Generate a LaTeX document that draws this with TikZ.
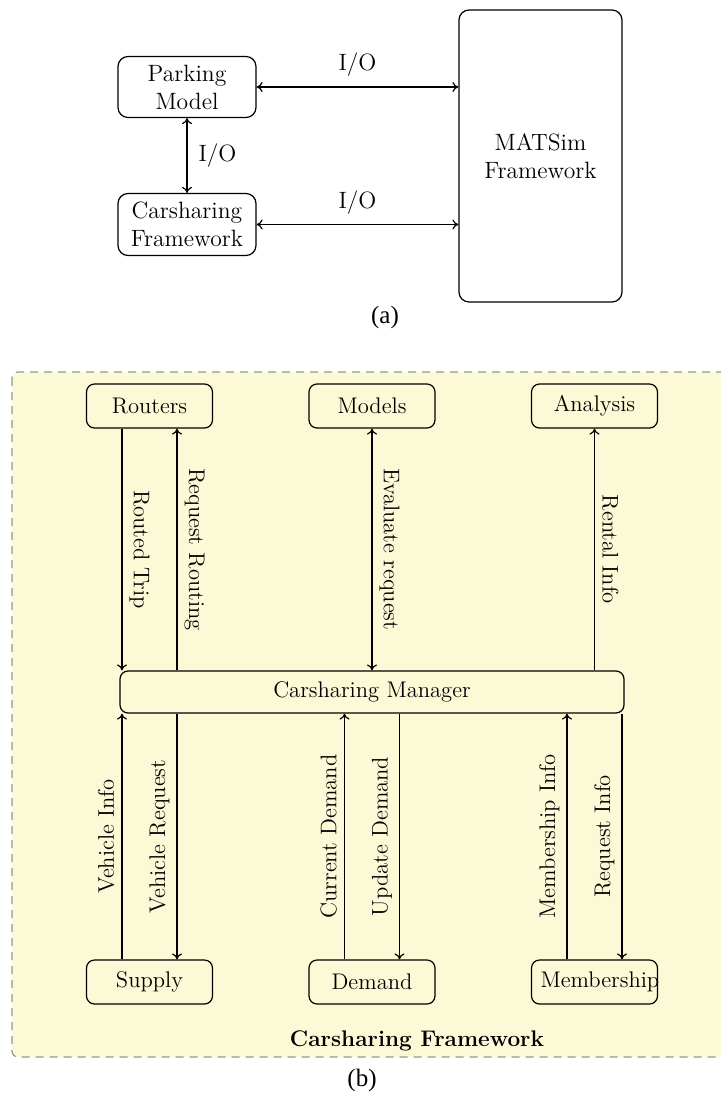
\documentclass[tikz,border=0pt]{standalone}
\usepackage{fontspec}
\newfontfamily\capfont{Liberation Serif}
\usetikzlibrary{arrows.meta}
\definecolor{fwfill}{RGB}{252,249,214}
\definecolor{fwline}{RGB}{150,150,150}
\begin{document}
\begin{tikzpicture}[x=0.5pt,y=-0.5pt,
  topbox/.style={draw, rounded corners=5pt, line width=0.6pt, align=center, inner sep=0pt,
    font=\fontsize{11.8}{14}\selectfont},
  botbox/.style={draw, rounded corners=4pt, line width=0.6pt, text width=54pt, align=center,
    minimum height=22pt, inner xsep=4.5pt, inner ysep=0pt, font=\fontsize{11.3}{13}\selectfont},
  conn/.style={line width=0.6pt, -{To[length=3pt,width=5pt]}},
  conn2/.style={line width=0.6pt, {To[length=3pt,width=5pt]}-{To[length=3pt,width=5pt]}},
  iolab/.style={font=\fontsize{11.8}{14}\selectfont, inner sep=0pt},
  uplab/.style={font=\fontsize{11.3}{13}\selectfont, inner sep=3.5pt, rotate=-90, anchor=south, midway},
  dnlab/.style={font=\fontsize{11.3}{13}\selectfont, inner sep=3.5pt, rotate=90, anchor=south, midway},
  captext/.style={font=\capfont\fontsize{12.5}{14}\selectfont, inner sep=0pt}
]
\clip (0,0) rectangle (721,1098);
\fill[white] (0,0) rectangle (721,1098);

% ---------- (a) ----------
\node[topbox, minimum width=69pt, minimum height=30.5pt] (park) at (187,87) {Parking\\Model};
\node[topbox, minimum width=69pt, minimum height=31pt] (csf) at (187,224.5) {Carsharing\\Framework};
\node[topbox, minimum width=81.5pt, minimum height=146pt] (mat) at (540.5,156) {MATSim\\Framework};
\draw[conn2] (park.east) -- (park.east -| mat.west) node[iolab, midway, above=5pt] (io1) {I/O};
\draw[conn2] (csf.east) -- (csf.east -| mat.west) node[iolab, midway, above=5pt] (io2) {I/O};
\draw[conn2] (park.south) -- (csf.north) node[iolab, midway, right=5.5pt] (io3) {I/O};
\node[captext] (capa) at (385,317) {(a)};

% ---------- (b) ----------
\draw[fwline, fill=fwfill, dash pattern=on 4pt off 3pt, line width=0.6pt, rounded corners=3pt]
  (12,372) rectangle (740,1057);

\node[botbox] (rout) at (149.5,406) {Routers};
\node[botbox] (mod) at (372,406) {Models};
\node[botbox] (ana) at (594.5,406) {Analysis};
\node[draw, rounded corners=4pt, line width=0.6pt, minimum width=252pt, minimum height=21pt,
  inner sep=0pt, font=\fontsize{11.3}{13}\selectfont] (mgr) at (372,692) {Carsharing Manager};
\node[botbox] (sup) at (149.5,982) {Supply};
\node[botbox] (dem) at (372,982) {Demand};
\node[botbox] (mem) at (594.5,982) {Membership};

% top connectors
\draw[conn] ([xshift=-13.75pt]rout.south) -- ([xshift=-13.75pt]rout.south |- mgr.north)
  node[uplab] {Routed Trip};
\draw[conn] ([xshift=13.75pt]rout.south |- mgr.north) -- ([xshift=13.75pt]rout.south)
  node[uplab] {Request Routing};
\draw[conn2] (mod.south) -- (mod.south |- mgr.north)
  node[uplab] {Evaluate request};
\draw[conn] (ana.south |- mgr.north) -- (ana.south)
  node[uplab] {Rental Info};

% bottom connectors
\draw[conn] ([xshift=-13.75pt]sup.north) -- ([xshift=-13.75pt]sup.north |- mgr.south)
  node[dnlab] {Vehicle Info};
\draw[conn] ([xshift=13.75pt]sup.north |- mgr.south) -- ([xshift=13.75pt]sup.north)
  node[dnlab] {Vehicle Request};
\draw[conn] ([xshift=-13.75pt]dem.north) -- ([xshift=-13.75pt]dem.north |- mgr.south)
  node[dnlab] {Current Demand};
\draw[conn] ([xshift=13.75pt]dem.north |- mgr.south) -- ([xshift=13.75pt]dem.north)
  node[dnlab] {Update Demand};
\draw[conn] ([xshift=-13.75pt]mem.north) -- ([xshift=-13.75pt]mem.north |- mgr.south)
  node[dnlab] {Membership Info};
\draw[conn] ([xshift=13.75pt]mem.north |- mgr.south) -- ([xshift=13.75pt]mem.north)
  node[dnlab] {Request Info};

\node[font=\bfseries\fontsize{11.3}{13}\selectfont, inner sep=0pt] (fwlab) at (417,1041) {Carsharing Framework};
\node[captext] (capb) at (362,1080) {(b)};
\end{tikzpicture}
\end{document}
